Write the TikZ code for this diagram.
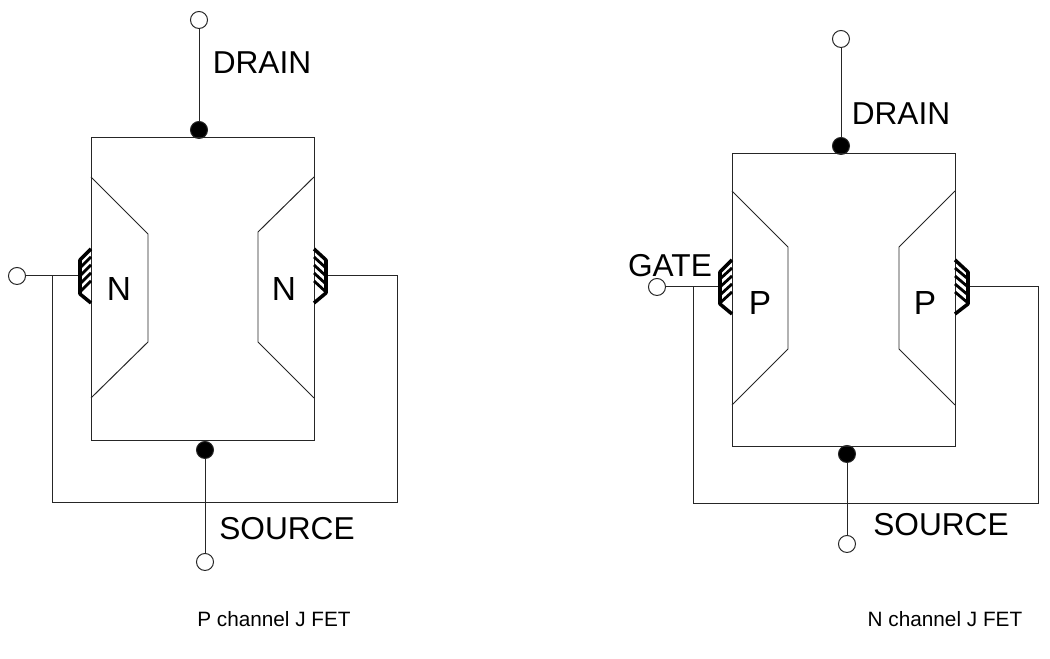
\documentclass[tikz,border=0pt]{standalone}
\usepackage{fontspec}
\setmainfont{Liberation Sans}
\begin{document}
\begin{tikzpicture}[x=0.01cm,y=-0.01cm,line width=0.28pt,color=black!85,
	terminal/.style={draw,circle,fill=white,inner sep=0pt,minimum size=0.17cm},
	junction/.style={draw,circle,fill=black,inner sep=0pt,minimum size=0.17cm},
	pinlabel/.style={inner sep=0pt,text=black,font=\fontsize{9}{10}\selectfont},
	regionlabel/.style={inner sep=0pt,text=black,font=\fontsize{9.5}{10}\selectfont},
	caption/.style={inner sep=0pt,text=black,font=\fontsize{5.9}{7}\selectfont},
	contact/.style={line width=1pt,color=black,line join=round},
	hatch/.style={line width=0.8pt,color=black}]
	\useasboundingbox (0,0) rectangle (1050,659);
	\node[terminal] (ldrain) at (199,20){};
	\node[junction] (ltop) at (199,130){};
	\node[junction] (lbot) at (205,450){};
	\node[terminal] (lsource) at (205,562){};
	\node[terminal] (lgate) at (17,276){};
	\coordinate (lgl) at (79,276);
	\coordinate (lgr) at (326,276);
	\coordinate (ljoin) at (52,276);
	\coordinate (lloopl) at (52,503);
	\coordinate (lloopr) at (397,503);
	\coordinate (lloopc) at (397,276);
	\draw (ldrain) -- (ltop);
	\draw (lbot) -- (lsource);
	\draw (91,138) rectangle (314,441);
	\draw (91,177) -- (148,234) -- (148,342) -- (91,398);
	\draw (314,177) -- (258,232) -- (258,342) -- (314,398);
	\draw (lgate) -- (lgl);
	\draw (ljoin) -- (lloopl) -- (lloopr) -- (lloopc) -- (lgr);
	\draw[contact] (91,249) -- (80,260) -- (80,294) -- (91,303);
	\draw[contact] (314,249) -- (326,260) -- (326,293) -- (314,303);
	\foreach \y in {257,265,273,281}{
		\draw[hatch] (80,\y+11) -- (91,\y);
		\draw[hatch] (314,\y) -- (326,\y+11);
	}
	\node[pinlabel] (ldrainl) at (262,63){DRAIN};
	\node[pinlabel] (lsourcel) at (287,529){SOURCE};
	\node[regionlabel] (ln1) at (119,289){N};
	\node[regionlabel] (ln2) at (284,289){N};
	\node[caption] (lcap) at (274,619){P channel J FET};
	\node[terminal] (rdrain) at (841,39){};
	\node[junction] (rtop) at (841,146){};
	\node[junction] (rbot) at (847,454){};
	\node[terminal] (rsource) at (847,544){};
	\node[terminal] (rgate) at (657,287){};
	\coordinate (rgl) at (720,287);
	\coordinate (rgr) at (968,287);
	\coordinate (rjoin) at (693,287);
	\coordinate (rloopl) at (693,504);
	\coordinate (rloopr) at (1038,504);
	\coordinate (rloopc) at (1038,287);
	\draw (rdrain) -- (rtop);
	\draw (rbot) -- (rsource);
	\draw (732,154) rectangle (955,447);
	\draw (732,191) -- (788,247) -- (788,349) -- (732,405);
	\draw (955,191) -- (899,247) -- (899,349) -- (955,405);
	\draw (rgate) -- (rgl);
	\draw (rjoin) -- (rloopl) -- (rloopr) -- (rloopc) -- (rgr);
	\draw[contact] (732,260) -- (720,272) -- (720,304) -- (732,314);
	\draw[contact] (955,260) -- (968,272) -- (968,304) -- (955,314);
	\foreach \y in {268,276,284,292}{
		\draw[hatch] (720,\y+11) -- (732,\y);
		\draw[hatch] (955,\y) -- (968,\y+11);
	}
	\node[pinlabel] (rdrainl) at (901,114){DRAIN};
	\node[pinlabel] (rsourcel) at (941,525){SOURCE};
	\node[pinlabel] (rgatel) at (670,266){GATE};
	\node[regionlabel] (rp1) at (760,303){P};
	\node[regionlabel] (rp2) at (925,303){P};
	\node[caption] (rcap) at (945,619){N channel J FET};
\end{tikzpicture}
\end{document}
